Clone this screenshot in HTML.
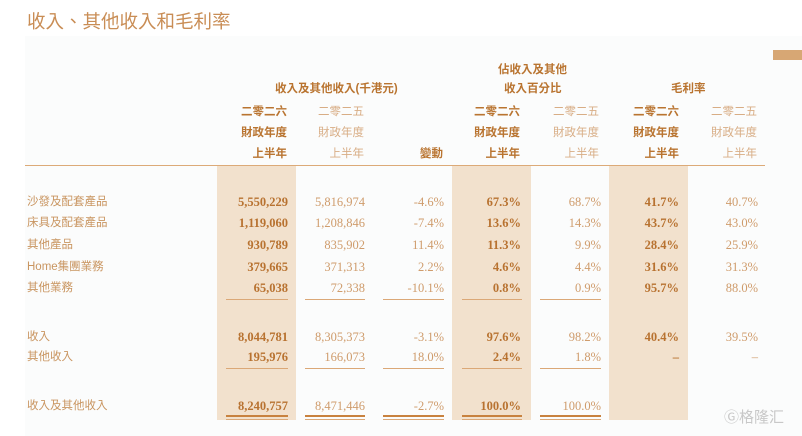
<!DOCTYPE html>
<html><head><meta charset="utf-8"><style>
body{margin:0;width:802px;height:436px;background:#fff;position:relative;overflow:hidden;font-family:"Liberation Serif","Noto Serif CJK SC",serif;}
.bg{position:absolute;left:25px;top:36px;width:777px;height:400px;background:#fbfcfc;}
.t{position:absolute;white-space:nowrap;line-height:1;}
.title{left:27px;top:13px;font-size:18.5px;color:#c98d55;font-family:"Liberation Sans","Noto Sans CJK TC",sans-serif;}
.h{font-family:"Liberation Sans","Noto Sans CJK TC",sans-serif;font-size:11.5px;}
.r{text-align:right;width:100px;}
.hb{color:#b97430;font-weight:bold;}
.hl{color:#d8ad85;}
.sh{position:absolute;top:166px;height:254px;background:#f2e1cd;}
.n{position:absolute;font-size:12.5px;text-align:right;width:90px;line-height:1;}
.b{color:#b87230;font-weight:bold;}
.l{color:#cf9c6c;}
.lab{position:absolute;left:27px;font-size:11.5px;color:#c99560;font-family:"Liberation Sans","Noto Sans CJK TC",sans-serif;line-height:1;}
.ul{position:absolute;height:1px;background:#dba877;}
.dl{position:absolute;height:2px;background:#c8823f;}
</style></head><body>
<div class="bg"></div>
<div class="t title">收入、其他收入和毛利率</div>
<div style="position:absolute;left:773px;top:50px;width:29px;height:10px;background:#d7a774"></div>
<div class="sh" style="left:217px;width:79px"></div>
<div class="sh" style="left:452px;width:79px"></div>
<div class="sh" style="left:609px;width:79px"></div>
<div style="position:absolute;left:25px;top:165px;width:740px;height:1px;background:#dcaa78"></div>

<div class="t h hb" style="left:275px;top:84px">收入及其他收入(千港元)</div>
<div class="t h hb" style="left:498px;top:65px">佔收入及其他</div>
<div class="t h hb" style="left:504px;top:84px">收入百分比</div>
<div class="t h hb" style="left:671px;top:84px">毛利率</div>

<div id="hd"></div>
<div class="lab" style="top:197px">沙發及配套產品</div>
<div class="lab" style="top:218px">床具及配套產品</div>
<div class="lab" style="top:240px">其他產品</div>
<div class="lab" style="top:262px">Home集團業務</div>
<div class="lab" style="top:283px">其他業務</div>
<div class="lab" style="top:332px">收入</div>
<div class="lab" style="top:352px">其他收入</div>
<div class="lab" style="top:401px">收入及其他收入</div>

<div id="rows"></div>
<script>
var rows=[[196,"5,550,229","5,816,974","-4.6%","67.3%","68.7%","41.7%","40.7%"],
[217,"1,119,060","1,208,846","-7.4%","13.6%","14.3%","43.7%","43.0%"],
[239,"930,789","835,902","11.4%","11.3%","9.9%","28.4%","25.9%"],
[261,"379,665","371,313","2.2%","4.6%","4.4%","31.6%","31.3%"],
[282,"65,038","72,338","-10.1%","0.8%","0.9%","95.7%","88.0%"],
[331,"8,044,781","8,305,373","-3.1%","97.6%","98.2%","40.4%","39.5%"],
[351,"195,976","166,073","18.0%","2.4%","1.8%","–","–"],
[400,"8,240,757","8,471,446","-2.7%","100.0%","100.0%","",""]];
var rx=[288,365,444,521,601,679,758],bold=[1,0,0,1,0,1,0],h="";
rows.forEach(function(r){for(var i=0;i<7;i++){h+='<div class="n '+(bold[i]?'b':'l')+'" style="left:'+(rx[i]-90)+'px;top:'+r[0]+'px">'+r[i+1]+'</div>';}});
var ux=[[226,288],[305,365],[383,444],[462,522],[540,601]];
ux.forEach(function(u){var w=u[1]-u[0];
h+='<div class="ul" style="left:'+u[0]+'px;top:299px;width:'+w+'px"></div>';
h+='<div class="ul" style="left:'+u[0]+'px;top:368px;width:'+w+'px"></div>';
h+='<div class="dl" style="left:'+u[0]+'px;top:415px;width:'+w+'px"></div>';
h+='<div class="ul" style="left:'+u[0]+'px;top:419px;width:'+w+'px"></div>';});
document.getElementById("rows").innerHTML=h;
var hx=[287,364,520,599,679,757],hb=[1,0,1,0,1,0],g="";
for(var i=0;i<6;i++){var c=hb[i]?'hb':'hl';
g+='<div class="t h r '+c+'" style="left:'+(hx[i]-100)+'px;top:107px">'+(hb[i]?'二零二六':'二零二五')+'</div>';
g+='<div class="t h r '+c+'" style="left:'+(hx[i]-100)+'px;top:128px">財政年度</div>';
g+='<div class="t h r '+c+'" style="left:'+(hx[i]-100)+'px;top:149px">上半年</div>';}
g+='<div class="t h r hb" style="left:343px;top:149px">變動</div>';
document.getElementById("hd").innerHTML=g;
</script>
<div class="t" style="left:724px;top:410px;font-size:15px;color:#c8c8c8;font-family:'Liberation Sans','Noto Sans CJK SC',sans-serif">Ⓖ格隆汇</div>
</body></html>
